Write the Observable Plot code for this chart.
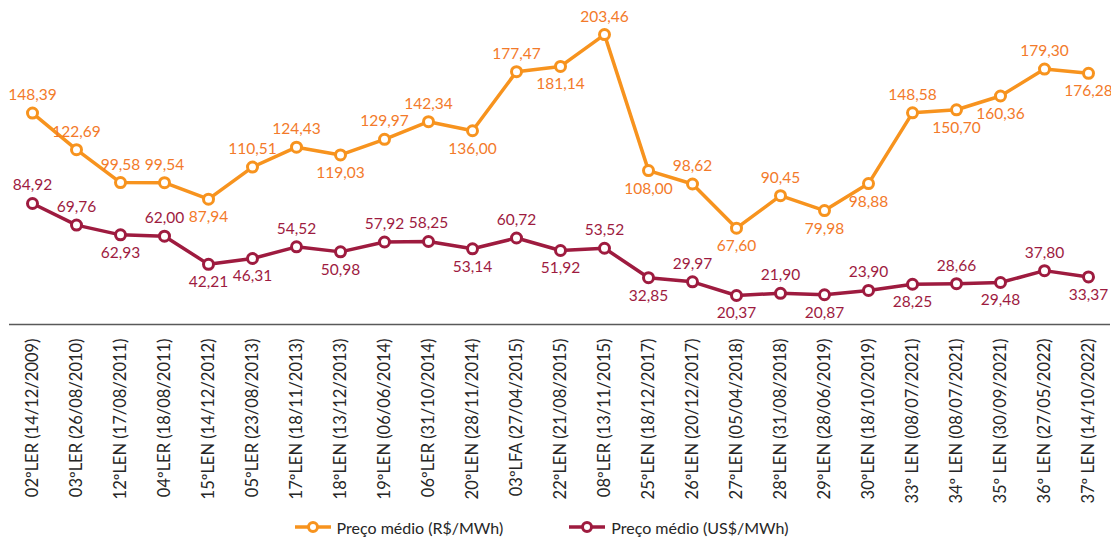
<!DOCTYPE html>
<html>
<head>
<meta charset="utf-8">
<script src="https://cdn.jsdelivr.net/npm/d3@7"></script>
<script src="https://cdn.jsdelivr.net/npm/@observablehq/plot@0.6"></script>
<style>
  html, body { margin: 0; padding: 0; background: #fff; }
  #chart { width: 1111px; height: 542px; font-family: Lato, "Noto Sans", sans-serif; }
  .legend { display: flex; justify-content: center; align-items: center; gap: 66px; font-size: 16px; color: #262626; height: 30px; padding-right: 28px; }
  .legend .item { display: flex; align-items: center; gap: 6px; }
</style>
</head>
<body>
<div id="chart"></div>
<script>
const categories = [
  "02ºLER (14/12/2009)", "03ºLER (26/08/2010)", "12ºLEN (17/08/2011)", "04ºLER (18/08/2011)",
  "15ºLEN (14/12/2012)", "05ºLER (23/08/2013)", "17ºLEN (18/11/2013)", "18ºLEN (13/12/2013)",
  "19ºLEN (06/06/2014)", "06ºLER (31/10/2014)", "20ºLEN (28/11/2014)", "03ºLFA (27/04/2015)",
  "22ºLEN (21/08/2015)", "08ºLER (13/11/2015)", "25ºLEN (18/12/2017)", "26ºLEN (20/12/2017)",
  "27ºLEN (05/04/2018)", "28ºLEN (31/08/2018)", "29ºLEN (28/06/2019)", "30ºLEN (18/10/2019)",
  "33º LEN (08/07/2021)", "34º LEN (08/07/2021)", "35º LEN (30/09/2021)", "36º LEN (27/05/2022)",
  "37º LEN (14/10/2022)"
];
const precoBRL = [148.39, 122.69, 99.58, 99.54, 87.94, 110.51, 124.43, 119.03, 129.97, 142.34, 136.00, 177.47,
  181.14, 203.46, 108.00, 98.62, 67.60, 90.45, 79.98, 98.88, 148.58, 150.70, 160.36, 179.30, 176.28];
const precoUSD = [84.92, 69.76, 62.93, 62.00, 42.21, 46.31, 54.52, 50.98, 57.92, 58.25, 53.14, 60.72,
  51.92, 53.52, 32.85, 29.97, 20.37, 21.90, 20.87, 23.90, 28.25, 28.66, 29.48, 37.80, 33.37];
const seriesNames = ["Preço médio (R$/MWh)", "Preço médio (US$/MWh)"];

// label placement (below the point for these indices)
const brlBelow = new Set([4, 7, 10, 12, 14, 16, 18, 19, 21, 22, 24]);
const usdBelow = new Set([2, 4, 5, 7, 10, 12, 14, 16, 18, 20, 22, 24]);

const orange = "#F7931E";
const orangeText = "#F37A2A";
const wine = "#9E1B3F";
const wineText = "#9E1B3F";

const fmt = v => v.toFixed(2).replace(".", ",");
const brl = categories.map((c, i) => ({c, v: precoBRL[i], below: brlBelow.has(i)}));
const usd = categories.map((c, i) => ({c, v: precoUSD[i], below: usdBelow.has(i)}));

const labelMarks = (data, color) => [
  Plot.text(data.filter(d => !d.below), {x: "c", y: "v", text: d => fmt(d.v), dy: -18, fill: color, fontSize: 15.5}),
  Plot.text(data.filter(d => d.below), {x: "c", y: "v", text: d => fmt(d.v), dy: 18, fill: color, fontSize: 15.5})
];

const plot = Plot.plot({
  width: 1111,
  height: 512,
  marginTop: 0,
  marginLeft: 9,
  marginRight: 1,
  marginBottom: 188,
  style: {fontFamily: "Lato, 'Noto Sans', sans-serif", background: "#fff", overflow: "visible"},
  x: {type: "point", domain: categories, padding: 0.5},
  y: {domain: [0, 227.4], axis: null},
  marks: [
    Plot.ruleY([0], {stroke: "#595959", strokeWidth: 1.5}),
    Plot.axisX({tickRotate: -90, tickSize: 0, tickPadding: 14, fontSize: 16.5, fill: "#262626", label: null}),
    Plot.line(brl, {x: "c", y: "v", stroke: orange, strokeWidth: 3.5}),
    Plot.dot(brl, {x: "c", y: "v", r: 5, fill: "#fff", stroke: orange, strokeWidth: 3}),
    Plot.line(usd, {x: "c", y: "v", stroke: wine, strokeWidth: 3.5}),
    Plot.dot(usd, {x: "c", y: "v", r: 5, fill: "#fff", stroke: wine, strokeWidth: 3}),
    ...labelMarks(brl, orangeText),
    ...labelMarks(usd, wineText)
  ]
});

const chart = document.getElementById("chart");
chart.appendChild(plot);

const swatch = color => `<svg width="36" height="14" viewBox="0 0 36 14"><line x1="0" y1="7" x2="36" y2="7" stroke="${color}" stroke-width="3.5"/><circle cx="18" cy="7" r="4.5" fill="#fff" stroke="${color}" stroke-width="3"/></svg>`;
const legend = document.createElement("div");
legend.className = "legend";
legend.innerHTML = `<div class="item">${swatch(orange)}<span>${seriesNames[0]}</span></div>` +
                   `<div class="item">${swatch(wine)}<span>${seriesNames[1]}</span></div>`;
chart.appendChild(legend);
</script>
</body>
</html>
